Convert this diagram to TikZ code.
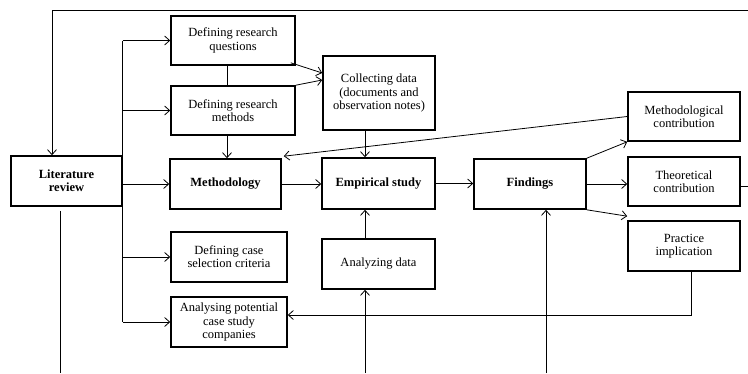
\documentclass[tikz,border=0pt]{standalone}
\usepackage{fontspec}
\setmainfont{Liberation Serif}
\usetikzlibrary{arrows.meta,calc}
\begin{document}
\begin{tikzpicture}[x=1pt,y=-1pt,
  box/.style={draw, line width=1.6pt, align=center, inner sep=1pt,
    font=\fontsize{12.5}{13.3}\selectfont},
  conn/.style={draw, line width=0.8pt},
  arr/.style={conn, -{Straight Barb[length=5pt,width=9pt]}}]
\useasboundingbox (0,0) rectangle (748,373);
% boxes
\node[box, minimum width=111pt, minimum height=50pt] (lit) at (66.5,181) {\textbf{Literature}\\\textbf{review}};
\node[box, minimum width=124pt, minimum height=49pt] (q) at (233,40.5) {Defining research\\questions};
\node[box, minimum width=124pt, minimum height=49pt] (m) at (233,110.5) {Defining research\\methods};
\node[box, minimum width=111pt, minimum height=50pt] (meth) at (225.5,184) {\textbf{Methodology}};
\node[box, minimum width=112pt, minimum height=74pt] (coll) at (379,93) {Collecting data\\(documents and\\observation notes)};
\node[box, minimum width=113pt, minimum height=51pt] (emp) at (378.5,183.5) {\textbf{Empirical study}};
\node[box, minimum width=112pt, minimum height=50pt] (find) at (530,184) {\textbf{Findings}};
\node[box, minimum width=112pt, minimum height=49pt] (mc) at (684,116.5) {Methodological\\contribution};
\node[box, minimum width=112pt, minimum height=49pt] (tc) at (684,181.5) {Theoretical\\contribution};
\node[box, minimum width=112pt, minimum height=50pt] (pi) at (684,246) {Practice\\implication};
\node[box, minimum width=116pt, minimum height=50pt] (cs) at (229,257) {Defining case\\selection criteria};
\node[box, minimum width=116pt, minimum height=50pt] (ap) at (229,322) {Analysing potential\\case study\\companies};
\node[box, minimum width=113pt, minimum height=50pt] (ad) at (378.5,264) {Analyzing data};
% free ends
\coordinate (tr) at (748,10);
\coordinate (tl) at (52,10);
\coordinate (tcr) at (748,186);
\coordinate (litb) at (60,373);
\coordinate (adb) at (365,373);
\coordinate (findb) at (546,373);
% top feedback line
\draw[arr] (tr) -- (tl) -- (tl |- lit.north);
\draw[conn] ($(tc.east)+(0,4.5)$) -- (tcr);
% literature review branches
\draw[conn] (lit.east |- q.west) -- (lit.east |- ap.west);
\draw[arr] (lit.east |- q.west) -- (q.west);
\draw[arr] (lit.east |- m.west) -- (m.west);
\draw[arr] (lit.east |- meth.west) -- (meth.west);
\draw[arr] (lit.east |- cs.west) -- (cs.west);
\draw[arr] (lit.east |- ap.west) -- (ap.west);
\draw[conn] ($(lit.south -| litb)+(0,4)$) -- (litb);
% methodology column
\draw[conn] ($(q.south)+(-6,0)$) -- ($(m.north)+(-6,0)$);
\draw[arr] ($(m.south)+(-6,0)$) -- ($(meth.north)+(1.5,0)$);
\draw[arr] ($(q.south east)+(-5,-3)$) -- ($(coll.west)+(0,-20)$);
\draw[arr] (m.north east) -- ($(coll.west)+(0,-13)$);
% main flow
\draw[arr] (meth.east) -- (meth.east -| emp.west);
\draw[arr] (emp.east) -- (emp.east -| find.west);
\draw[arr] (find.east) -- (find.east -| tc.west);
\draw[arr] ($(coll.south)+(-14,0)$) -- ($(emp.north)+(-13.5,0)$);
\draw[arr] ($(ad.north)+(-13.5,0)$) -- ($(emp.south)+(-13.5,0)$);
\draw[arr] (adb) -- (adb |- ad.south);
\draw[arr] (findb) -- (findb |- find.south);
% findings outputs
\draw[arr] (find.north east) -- (mc.south west);
\draw[arr] (find.south east) -- ($(pi.north west)+(0,-4)$);
\draw[arr] (mc.west) -- ($(meth.north east)+(2,-2)$);
% practice implication feedback
\draw[arr] ($(pi.south)+(7,0)$) |- ($(ap.east)+(0,-7)$);
\end{tikzpicture}
\end{document}
